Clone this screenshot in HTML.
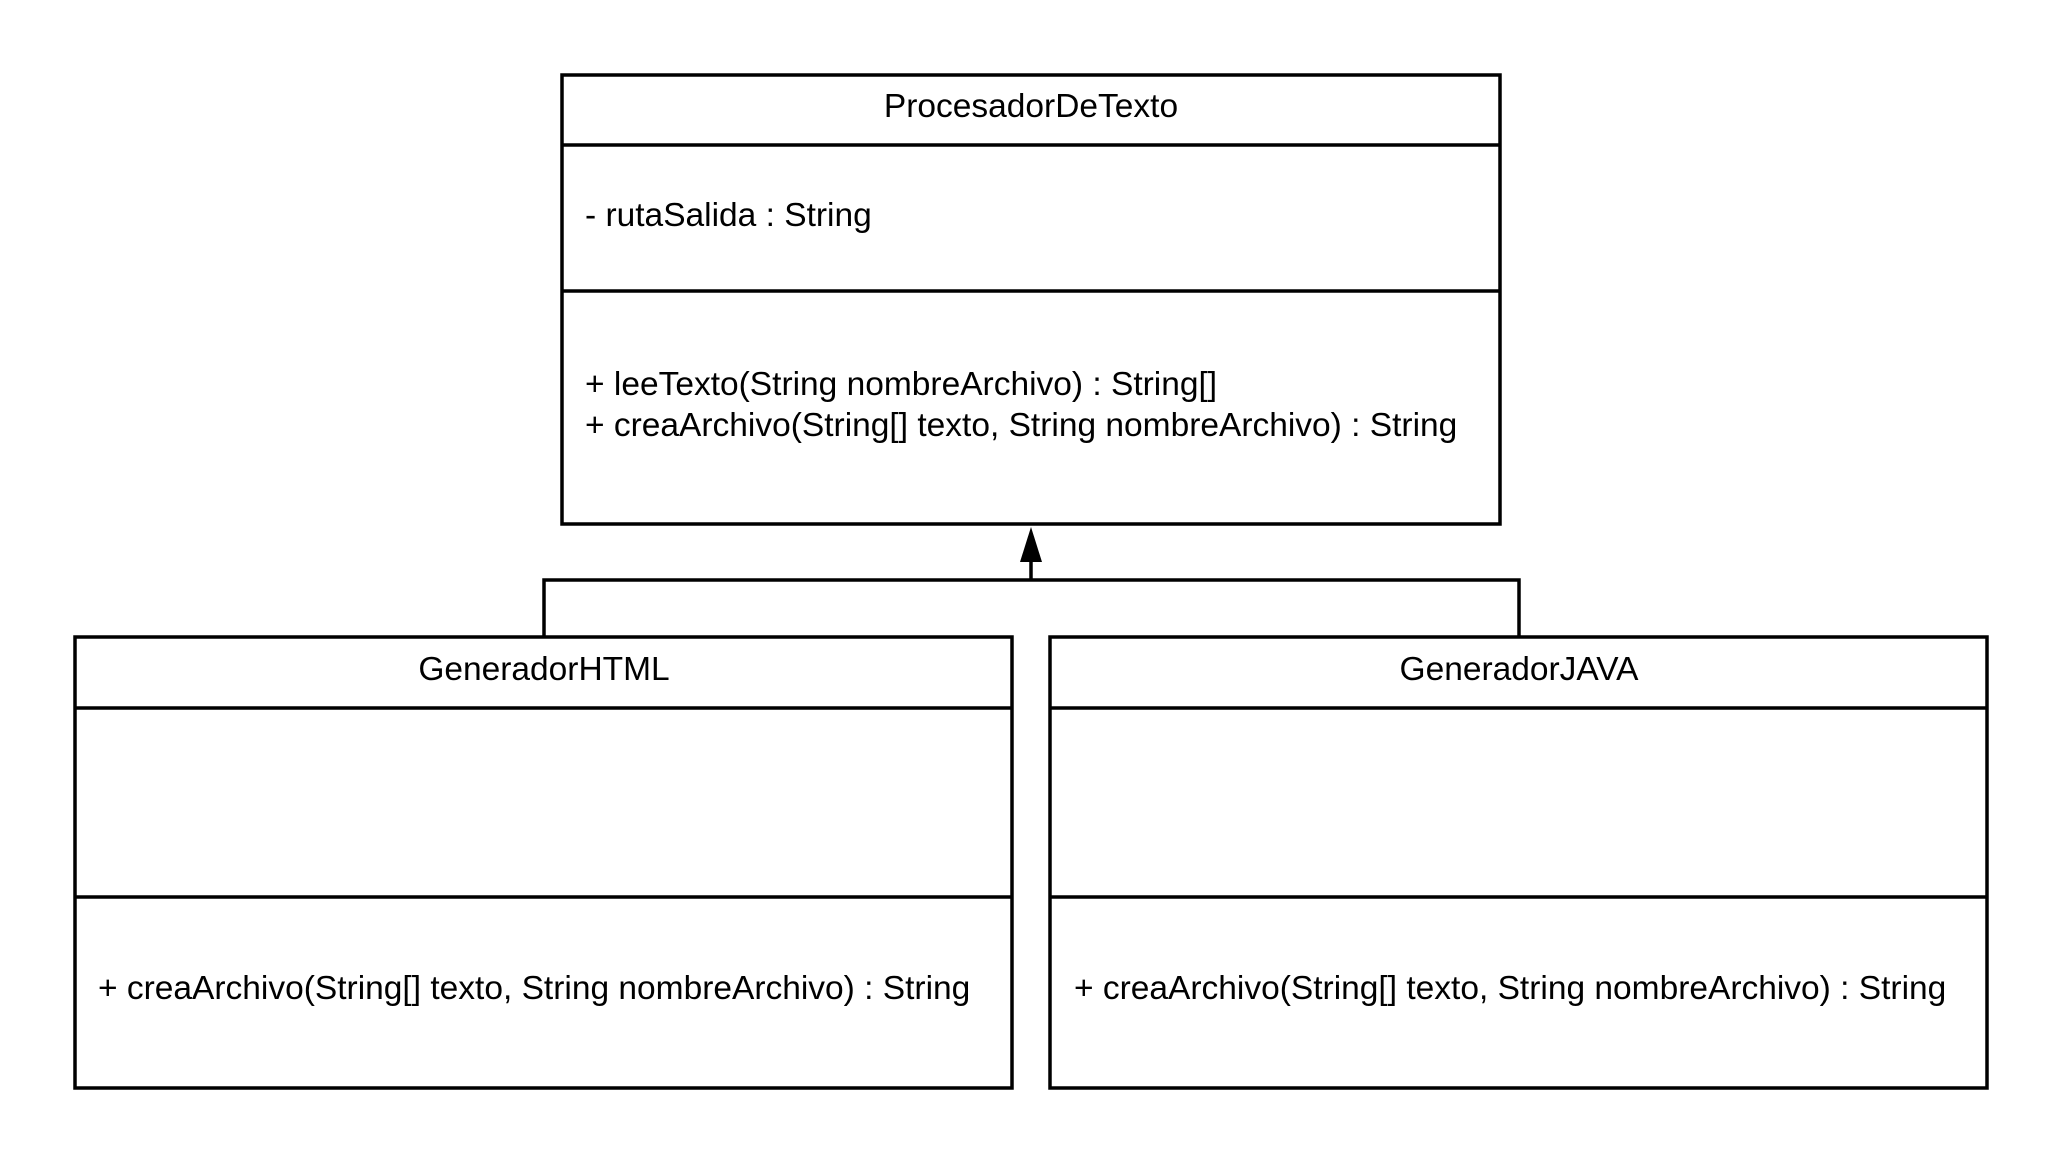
<!DOCTYPE html>
<html><head><meta charset="utf-8"><style>
html,body{margin:0;padding:0;background:#fff;}
svg{display:block}
text{font-family:"Liberation Sans",Arial,sans-serif;font-size:33.5px;fill:#000}
</style></head><body>
<svg width="2063" height="1163" viewBox="0 0 2063 1163" xmlns="http://www.w3.org/2000/svg">
<g fill="none" stroke="#000" stroke-width="3.5">
<rect x="562" y="75" width="938" height="449"/>
<line x1="562" y1="145" x2="1500" y2="145"/>
<line x1="562" y1="291" x2="1500" y2="291"/>
<rect x="75" y="637" width="937" height="451"/>
<line x1="75" y1="708" x2="1012" y2="708"/>
<line x1="75" y1="897" x2="1012" y2="897"/>
<rect x="1050" y="637" width="937" height="451"/>
<line x1="1050" y1="708" x2="1987" y2="708"/>
<line x1="1050" y1="897" x2="1987" y2="897"/>
<polyline points="544,637 544,580 1519,580 1519,637"/>
<line x1="1031" y1="580" x2="1031" y2="555"/>
</g>
<polygon points="1031,527 1020,562 1042,562" fill="#000"/>
<text x="1031" y="117" text-anchor="middle">ProcesadorDeTexto</text>
<text x="585" y="226">- rutaSalida : String</text>
<text x="585" y="395">+ leeTexto(String nombreArchivo) : String[]</text>
<text x="585" y="436">+ creaArchivo(String[] texto, String nombreArchivo) : String</text>
<text x="544" y="680" text-anchor="middle">GeneradorHTML</text>
<text x="98" y="999">+ creaArchivo(String[] texto, String nombreArchivo) : String</text>
<text x="1519" y="680" text-anchor="middle">GeneradorJAVA</text>
<text x="1074" y="999">+ creaArchivo(String[] texto, String nombreArchivo) : String</text>
</svg>
</body></html>
